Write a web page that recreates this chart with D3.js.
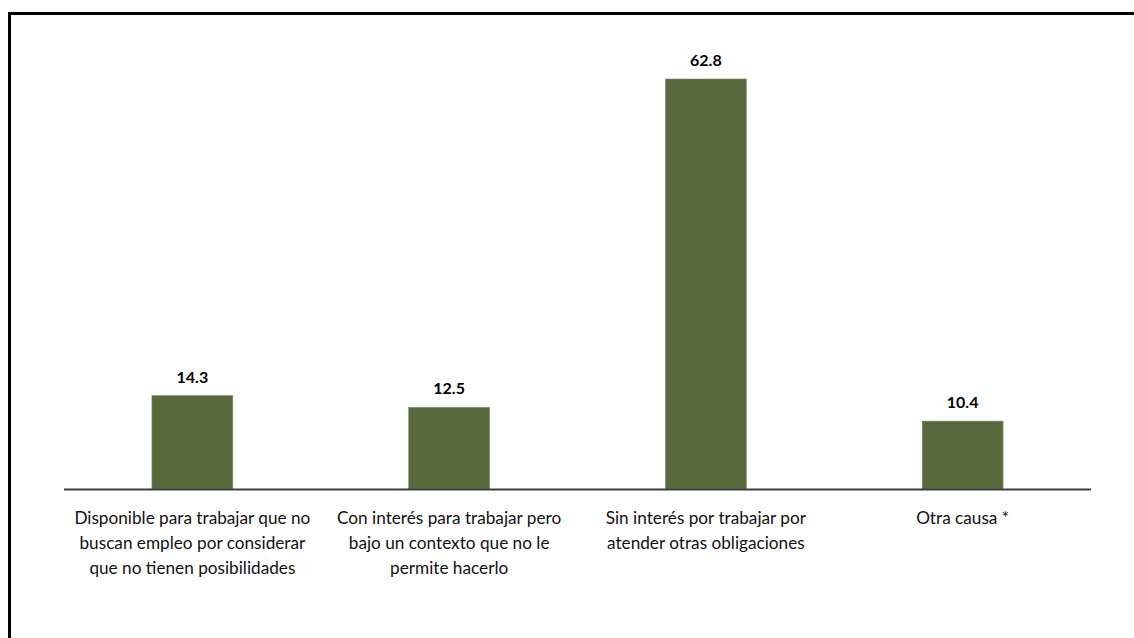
<!DOCTYPE html>
<html><head><meta charset="utf-8">
<script src="https://cdn.jsdelivr.net/npm/d3@7"></script>
<style>html,body{margin:0;padding:0;background:#fff;overflow:hidden}</style>
</head><body>
<svg id="c" width="1134" height="638"></svg>
<script>
const categories = [
  ["Disponible para trabajar que no","buscan empleo por considerar","que no tienen posibilidades"],
  ["Con interés para trabajar pero","bajo un contexto que no le","permite hacerlo"],
  ["Sin interés por trabajar por","atender otras obligaciones"],
  ["Otra causa *"]
];
const values = [14.3, 12.5, 62.8, 10.4];
const valueLabels = ["14.3", "12.5", "62.8", "10.4"];

const svg = d3.select("#c");
const font = "Lato, 'Open Sans', sans-serif";

// frame
svg.append("rect").attr("x", 9.5).attr("y", 13.5).attr("width", 1140).attr("height", 700)
  .attr("fill", "none").attr("stroke", "#000").attr("stroke-width", 3);

const x = d3.scaleBand().domain(d3.range(values.length)).range([64, 1091])
  .paddingInner(0.685).paddingOuter(0.3425);
const y = d3.scaleLinear().domain([0, 62.8]).range([489, 79]);

svg.selectAll("rect.bar").data(values).join("rect").attr("class", "bar")
  .attr("x", (d, i) => x(i)).attr("y", d => y(d))
  .attr("width", x.bandwidth()).attr("height", d => y(0) - y(d))
  .attr("fill", "#57693d").attr("stroke", "#7d8c68").attr("stroke-width", 0.6);

// axis line
svg.append("line").attr("x1", 64).attr("x2", 1091).attr("y1", 489.5).attr("y2", 489.5)
  .attr("stroke", "#3f3f3f").attr("stroke-width", 2);

svg.selectAll("text.val").data(values).join("text").attr("class", "val")
  .attr("x", (d, i) => x(i) + x.bandwidth() / 2).attr("y", d => y(d) - 13)
  .attr("text-anchor", "middle").attr("font-family", font).attr("font-weight", "bold")
  .attr("font-size", 16).attr("fill", "#000").text((d, i) => valueLabels[i]);

const cat = svg.selectAll("text.cat").data(categories).join("text").attr("class", "cat")
  .attr("text-anchor", "middle").attr("font-family", font).attr("font-size", 17.2).attr("fill", "#111");
cat.each(function(lines, i) {
  d3.select(this).selectAll("tspan").data(lines).join("tspan")
    .attr("x", x(i) + x.bandwidth() / 2).attr("y", (l, j) => 524 + j * 25).text(l => l);
});
</script>
</body></html>
